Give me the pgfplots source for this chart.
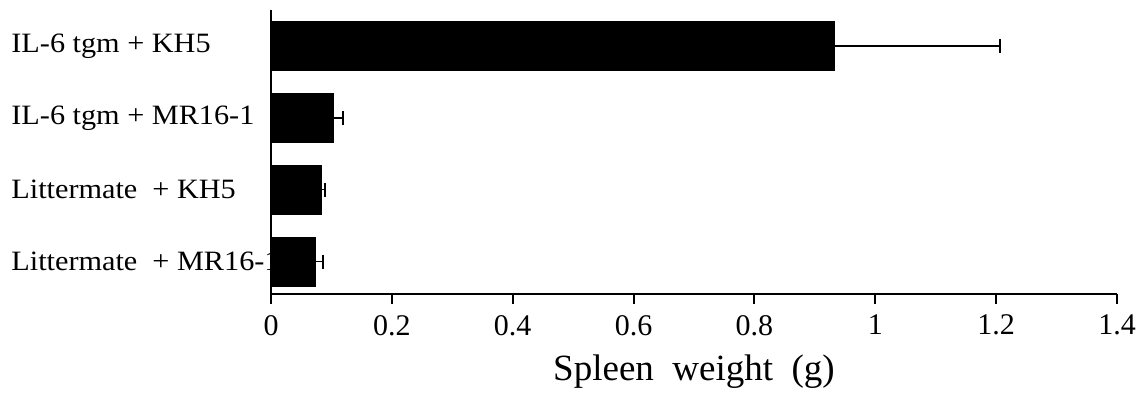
\documentclass[border=0pt]{standalone}
\usepackage{fontspec}
\setmainfont{Liberation Serif}
\newfontfamily\catfont[FakeStretch=1.08]{Liberation Serif}
\usepackage{pgfplots}
\pgfplotsset{compat=1.18}
\begin{document}
\begin{tikzpicture}
\useasboundingbox (0,0) rectangle (573pt,200pt);
\begin{axis}[
  at={(135.5pt,53pt)}, anchor=south west,
  scale only axis, width=423pt, height=142pt,
  xmin=0, xmax=1.4, ymin=-0.45, ymax=3.5,
  axis x line*=bottom, axis y line*=left,
  axis line style={line width=1pt},
  xtick={0,0.2,0.4,0.6,0.8,1,1.2,1.4},
  tick align=outside, major tick length=5pt,
  tick style={line width=1pt, black},
  ytick={0,1,2,3},
  yticklabels={Littermate\ \ +\ MR16-1, Littermate\ \ +\ KH5, IL-6 tgm\ +\ MR16-1, IL-6 tgm\ +\ KH5},
  ytick style={draw=none},
  yticklabel style={anchor=west, inner xsep=0pt, xshift=-125pt, font=\catfont\fontsize{14}{16}\selectfont},
  xticklabel style={font=\fontsize{15}{17}\selectfont, yshift=-2pt},
  xlabel={Spleen\ \ weight\ \ (g)},
  xlabel style={font=\fontsize{18.5}{21}\selectfont, at={(axis description cs:0.5,0)}, anchor=center, yshift=-39pt},
  /pgf/number format/assume math mode=true,
  clip=false,
]
\addplot[xbar, bar width=24.5pt, fill=black, draw=black,
  error bars/.cd, x dir=plus, x explicit,
  error bar style={line width=0.7pt, black},
  error mark options={rotate=90, line width=1pt, mark size=3.5pt, black}]
coordinates {
  (0.074,0) +- (0.012,0)
  (0.084,1) +- (0.005,0)
  (0.104,2) +- (0.015,0)
  (0.933,3) +- (0.274,0)
};
\end{axis}
\end{tikzpicture}
\end{document}
